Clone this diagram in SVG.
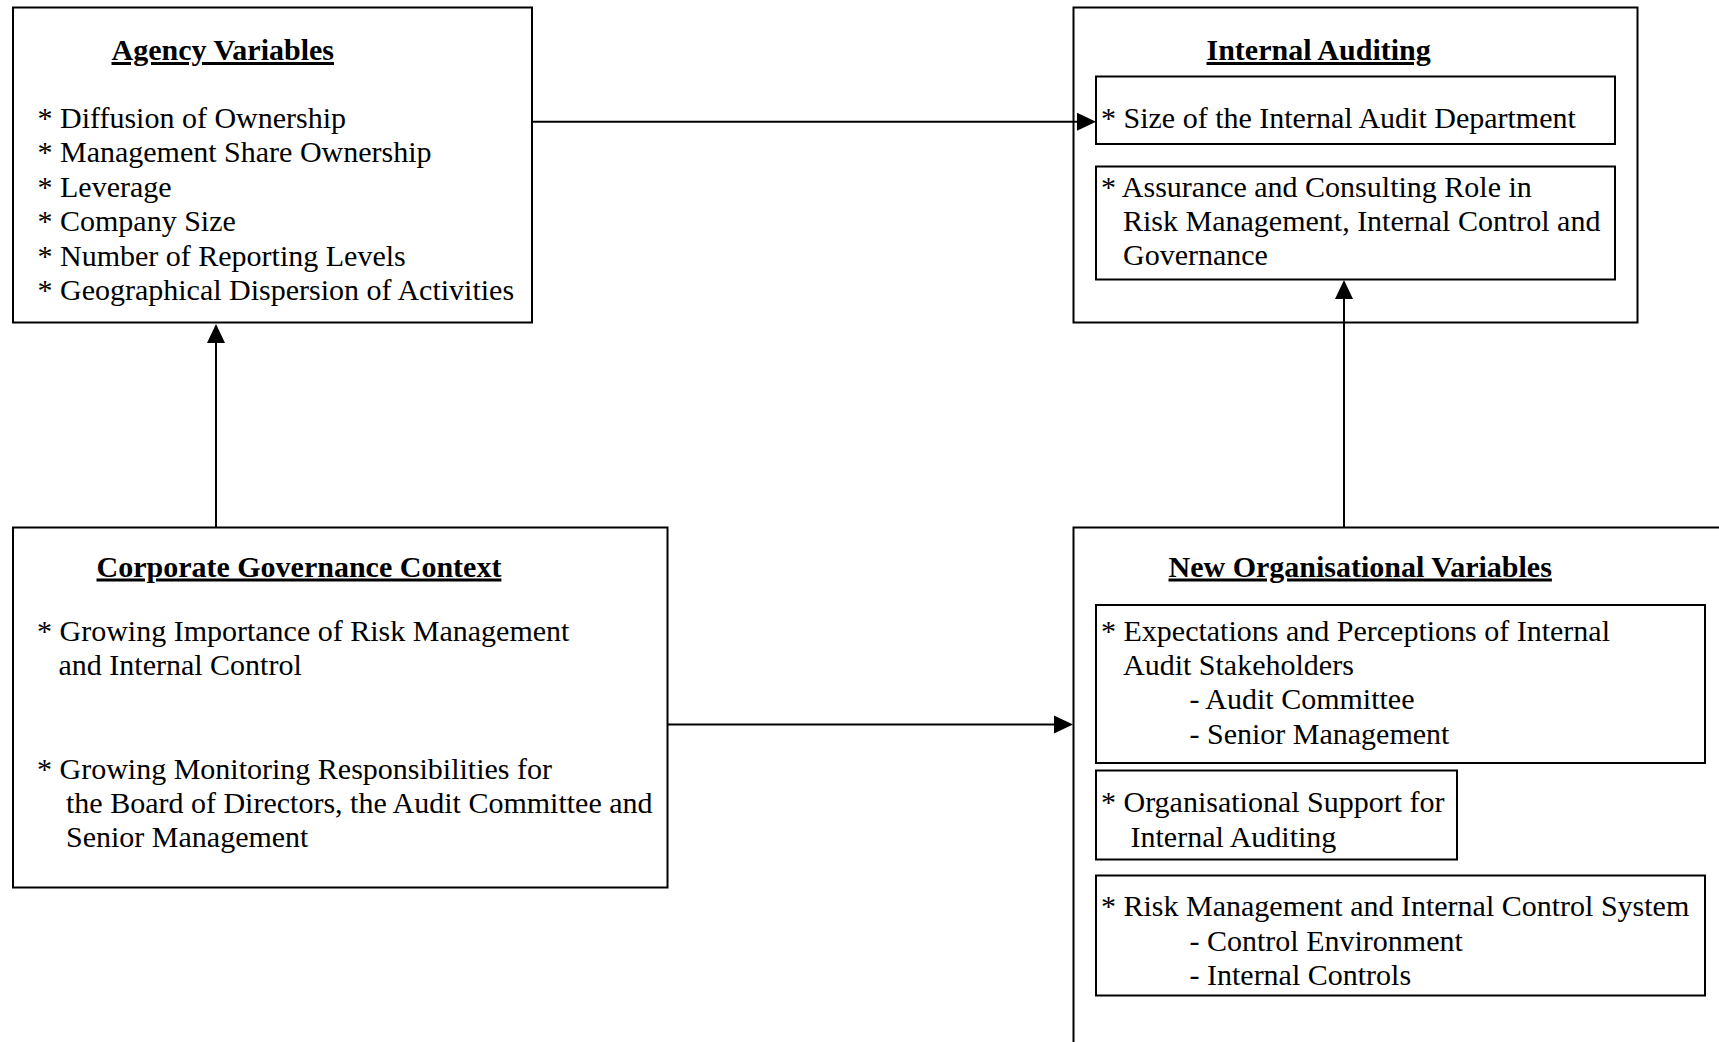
<svg xmlns="http://www.w3.org/2000/svg" width="1719" height="1042" viewBox="0 0 1719 1042">
<defs>
<style>
text{font-family:"Liberation Serif","Times New Roman",serif;font-size:30px;fill:#000}
.t{font-weight:bold;text-decoration:underline}
.box{fill:none;stroke:#000;stroke-width:2}
.con{fill:none;stroke:#000;stroke-width:2}
</style>
<marker id="ah" markerUnits="userSpaceOnUse" markerWidth="20" markerHeight="20" refX="9" refY="10" orient="auto">
<path d="M0,1 L19,10 L0,19 Z" fill="#000"/>
</marker>
</defs>
<rect width="1719" height="1042" fill="#fff"/>

<g id="agency">
<rect class="box" x="13" y="7.5" width="519" height="315"/>
<text class="t" x="111.5" y="60">Agency Variables</text>
<text x="37.5" y="127.5">* Diffusion of Ownership</text>
<text x="37.5" y="162">* Management Share Ownership</text>
<text x="37.5" y="196.5">* Leverage</text>
<text x="37.5" y="231">* Company Size</text>
<text x="37.5" y="265.5">* Number of Reporting Levels</text>
<text x="37.5" y="300">* Geographical Dispersion of Activities</text>
</g>

<g id="internal-auditing">
<rect class="box" x="1073.5" y="7.5" width="564" height="315"/>
<text class="t" x="1206.5" y="60">Internal Auditing</text>
<rect class="box" x="1096" y="76.5" width="519" height="67.5"/>
<text x="1101" y="127.5">* Size of the Internal Audit Department</text>
<rect class="box" x="1096" y="166.5" width="519" height="113"/>
<text x="1101" y="196.5">* Assurance and Consulting Role in</text>
<text x="1123" y="230.5">Risk Management, Internal Control and</text>
<text x="1123" y="265">Governance</text>
</g>

<g id="corporate-governance">
<rect class="box" x="13" y="527.5" width="654.5" height="360"/>
<text class="t" x="96.5" y="576.5">Corporate Governance Context</text>
<text x="37" y="640.5">* Growing Importance of Risk Management</text>
<text x="58.5" y="674.5">and Internal Control</text>
<text x="37" y="778.5">* Growing Monitoring Responsibilities for</text>
<text x="66" y="812.5">the Board of Directors, the Audit Committee and</text>
<text x="66" y="846.5">Senior Management</text>
</g>

<g id="new-organisational">
<path class="box" d="M1073.5,1043 V527.5 H1720"/>
<text class="t" x="1168.5" y="576.5">New Organisational Variables</text>
<rect class="box" x="1096" y="605" width="609" height="158"/>
<text x="1101" y="640.5">* Expectations and Perceptions of Internal</text>
<text x="1123" y="674.5">Audit Stakeholders</text>
<text x="1189.5" y="709">- Audit Committee</text>
<text x="1189.5" y="744">- Senior Management</text>
<rect class="box" x="1096" y="770.5" width="361" height="89"/>
<text x="1101" y="812">* Organisational Support for</text>
<text x="1130.5" y="846.5">Internal Auditing</text>
<rect class="box" x="1096" y="875.5" width="609" height="120"/>
<text x="1101" y="915.5">* Risk Management and Internal Control System</text>
<text x="1189.5" y="951">- Control Environment</text>
<text x="1189.5" y="985">- Internal Controls</text>
</g>

<g id="connectors">
<path class="con" d="M532,121.7 H1086" marker-end="url(#ah)"/>
<path class="con" d="M216,527.5 V334" marker-end="url(#ah)"/>
<path class="con" d="M1344,527 V290" marker-end="url(#ah)"/>
<path class="con" d="M667.5,724.5 H1063" marker-end="url(#ah)"/>
</g>
</svg>
